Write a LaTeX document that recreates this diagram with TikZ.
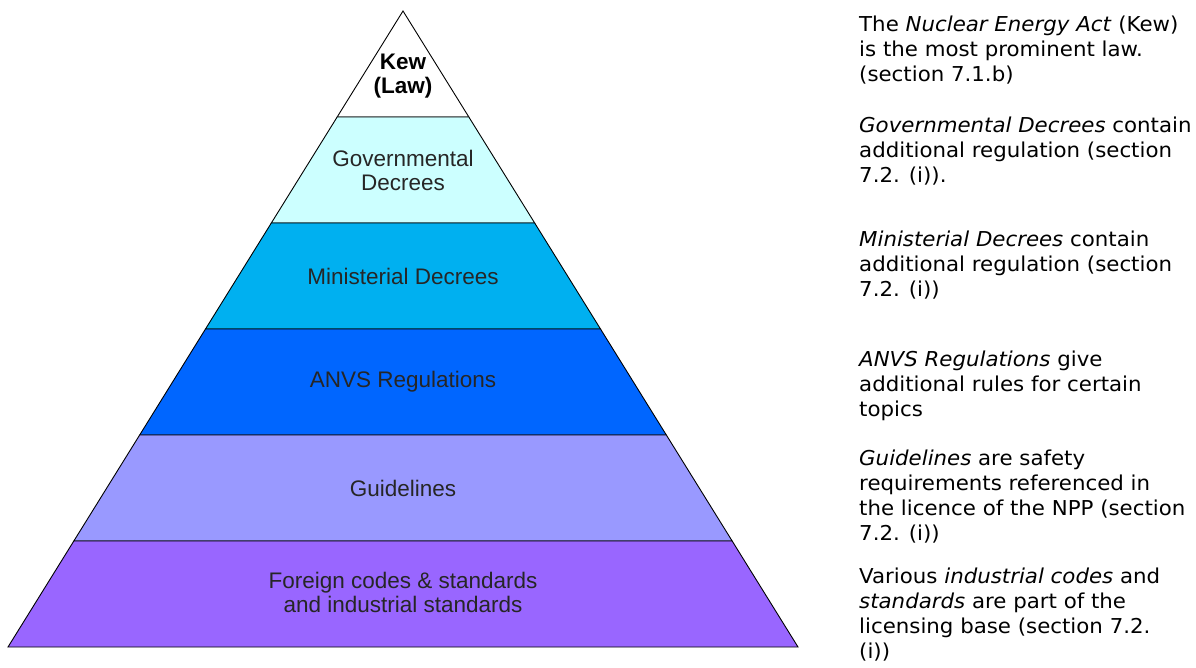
\documentclass[tikz,border=0pt]{standalone}
\usepackage{fontspec}
\setmainfont{DejaVu Sans}[FakeStretch=1.04]
\newfontfamily\arialfont{Liberation Sans}
\usetikzlibrary{calc,positioning}

\definecolor{govcol}{HTML}{CCFFFF}
\definecolor{mincol}{HTML}{00B0F0}
\definecolor{anvscol}{HTML}{0066FF}
\definecolor{guidecol}{HTML}{9999FF}
\definecolor{forcol}{HTML}{9966FF}

\begin{document}
\begin{tikzpicture}[x=1pt,y=-1pt,
    layer/.style={draw=black,line width=0.9pt,line join=miter},
    lbl/.style={align=center,inner sep=0pt,text=black!85,
      font=\arialfont\fontsize{22.5}{24}\selectfont},
    note/.style={anchor=base west,align=left,inner sep=0pt,
      font=\fontsize{20.5}{25}\selectfont}]

  \useasboundingbox (0,0) rectangle (1196,668);

  \coordinate (top) at (403,11);
  \coordinate (bl) at (8,647);
  \coordinate (br) at (798,647);

  \foreach \k/\col [evaluate=\k as \j using int(\k+1)] in
      {0/white,1/govcol,2/mincol,3/anvscol,4/guidecol,5/forcol}
    \filldraw[layer,fill=\col] ($(top)!\k/6!(bl)$) -- ($(top)!\j/6!(bl)$)
      -- ($(top)!\j/6!(br)$) -- ($(top)!\k/6!(br)$) -- cycle;

  \node[lbl,text=black] (kew) at (403,76) {\bfseries Kew\\\bfseries (Law)};
  \node[lbl] (gov) at (403,170) {Governmental\\Decrees};
  \node[lbl] (min) at (403,276) {Ministerial Decrees};
  \node[lbl] (anvs) at (403,382) {ANVS Regulations};
  \node[lbl] (guide) at (403,488) {Guidelines};
  \node[lbl] (for) at (403,592) {Foreign codes \& standards\\and industrial standards};

  % notes: anchored at the baseline of their last line
  \node[note] (kewnote) at (859,82) {The \textit{Nuclear Energy Act} (Kew)\\is the most prominent law.\\(section 7.1.b)};
  \node[note] (govnote) at (859,183) {\textit{Governmental Decrees} contain\\additional regulation (section\\7.2. (i)).};
  \node[note] (minnote) at (859,296) {\textit{Ministerial Decrees} contain\\additional regulation (section\\7.2. (i))};
  \node[note] (anvsnote) at (859,416) {\textit{ANVS Regulations} give\\additional rules for certain\\topics};
  \node[note] (guidenote) at (859,540) {\textit{Guidelines} are safety\\requirements referenced in\\the licence of the NPP (section\\7.2. (i))};
  \node[note] (fornote) at (859,658) {Various \textit{industrial codes} and\\\textit{standards} are part of the\\licensing base (section 7.2.\\(i))};

\end{tikzpicture}
\end{document}
